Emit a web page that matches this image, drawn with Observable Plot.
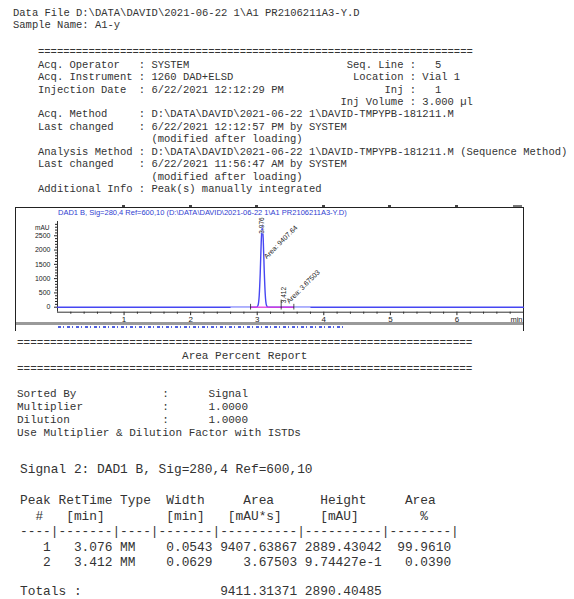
<!DOCTYPE html>
<html><head><meta charset="utf-8">
<script src="https://cdn.jsdelivr.net/npm/d3@7"></script>
<script src="https://cdn.jsdelivr.net/npm/@observablehq/plot@0.6"></script>
<style>
html,body{margin:0;padding:0;background:#fff;width:574px;height:599px;overflow:hidden;position:relative}
.mono{position:absolute;margin:0;font-family:"Liberation Mono","Courier New",monospace;color:#333;white-space:pre}
.sans{font-family:"Liberation Sans",Arial,sans-serif}
</style></head><body>
<pre class="mono" id="topBlock" style="left:13px;top:7px;font-size:10.5px;line-height:12px"></pre>
<pre class="mono" id="headerBlock" style="left:38px;top:46.3px;font-size:10.5px;line-height:12.44px"></pre>
<div id="prevFrag" style="position:absolute;left:0;top:204px;width:574px;height:3px"></div>
<div id="chartBox" style="position:absolute;left:15px;top:207px;width:507px;height:123px;border-left:1px solid #222;border-right:1px solid #222;border-top:1px solid #222">
  <div id="chartTitle" class="sans" style="position:absolute;left:42px;top:0.7px;font-size:7.5px;line-height:8px;color:#3040d0;white-space:nowrap"></div>
  <div id="plotHost" style="position:absolute;left:0;top:0"></div>
  <div style="position:absolute;left:0;top:114px;width:507px;height:2.5px;background:#9a9a9a"></div>
  <div style="position:absolute;left:42px;top:117.5px;width:288px;height:2px;background:repeating-linear-gradient(90deg,#5060e0 0 3px,transparent 3px 5px,#5060e0 5px 6px,transparent 6px 9px)"></div>
</div>
<pre class="mono" id="reportBlock" style="left:17px;top:337.1px;font-size:11px;line-height:12.8px"></pre>
<div id="tableBlock" style="position:absolute;left:20px;top:461.5px;width:540px;height:137px"></div>
<script>
// ---------- report text ----------
const dataFile = "D:\\DATA\\DAVID\\2021-06-22 1\\A1 PR2106211A3-Y.D";
const sampleName = "A1-y";
const methodPath = "D:\\DATA\\DAVID\\2021-06-22 1\\DAVID-TMPYPB-181211.M";
const signalName = "DAD1 B, Sig=280,4 Ref=600,10";

// ---------- chart data ----------
const traceTime   = [0, 2.6, 2.9, 2.96, 2.99, 3.01, 3.03, 3.045, 3.06, 3.076, 3.09, 3.105, 3.12, 3.14, 3.16, 3.19, 3.3, 3.38, 3.412, 3.44, 3.6, 7];
const traceSignal = [0, 0,   0,   0,    3,    50,   400,  1170,  2270, 2889,  2400, 1310,  470,  60,   4,    0,    0,   0.3,  1,     0.3,  0,   0];

const peakNo     = [1, 2];
const peakRT     = [3.076, 3.412];
const peakType   = ["MM", "MM"];
const peakWidth  = ["0.0543", "0.0629"];
const peakArea   = [9407.63867, 3.67503];
const peakAreaTxt   = ["9407.63867", "3.67503"];
const peakHeight    = [2889.43042, 0.974427];
const peakHeightTxt = ["2889.43042", "9.74427e-1"];
const peakPct    = ["99.9610", "0.0390"];
const totalArea  = "9411.31371";
const totalHeight = "2890.40485";

const baseStart = [2.90, 3.36];
const baseEnd   = [3.36, 3.55];
const baseLevel = [0, 0];
const lightStart = [2.60, 3.55];
const lightEnd   = [2.90, 3.80];
const markerTime = [2.90, 3.36, 3.55];
const markerLow  = [-100, -100, -100];
const markerHigh = [100, 250, 100];

const xTicks = [1, 2, 3, 4, 5, 6];
const xMinorTicks = [0.2,0.4,0.6,0.8,1.2,1.4,1.6,1.8,2.2,2.4,2.6,2.8,3.2,3.4,3.6,3.8,4.2,4.4,4.6,4.8,5.2,5.4,5.6,5.8,6.2,6.4,6.6,6.8];
const yTicks = [0, 500, 1000, 1500, 2000, 2500];
const yMinorTicks = [100,200,300,400,600,700,800,900,1100,1200,1300,1400,1600,1700,1800,1900,2100,2200,2300,2400,2600,2700,2800,2900];

// ---------- text blocks ----------
const pad = (s, n) => s.padEnd(n);
document.getElementById("topBlock").textContent = [
  "Data File " + dataFile,
  "Sample Name: " + sampleName
].join("\n");

document.getElementById("headerBlock").textContent = [
  "=".repeat(69),
  pad("Acq. Operator   : SYSTEM", 49) + "Seq. Line :   5",
  pad("Acq. Instrument : 1260 DAD+ELSD", 50) + "Location : Vial 1",
  pad("Injection Date  : 6/22/2021 12:12:29 PM", 55) + "Inj :   1",
  " ".repeat(48) + "Inj Volume : 3.000 µl",
  "Acq. Method     : " + methodPath,
  "Last changed    : 6/22/2021 12:12:57 PM by SYSTEM",
  "                  (modified after loading)",
  "Analysis Method : " + methodPath + " (Sequence Method)",
  "Last changed    : 6/22/2021 11:56:47 AM by SYSTEM",
  "                  (modified after loading)",
  "Additional Info : Peak(s) manually integrated"
].join("\n");

document.getElementById("reportBlock").textContent = [
  "=".repeat(69),
  " ".repeat(25) + "Area Percent Report",
  "=".repeat(69),
  "",
  "Sorted By             :      Signal",
  "Multiplier            :      1.0000",
  "Dilution              :      1.0000",
  "Use Multiplier & Dilution Factor with ISTDs"
].join("\n");

const rows = peakNo.map((n, i) =>
  String(n).padStart(4) + peakRT[i].toFixed(3).padStart(8) + " " + peakType[i].padEnd(4) + " " +
  peakWidth[i].padStart(7) + " " + peakAreaTxt[i].padStart(10) + " " + peakHeightTxt[i].padStart(10) + " " + peakPct[i].padStart(8));
const tableLines = [
  "Signal 2: " + signalName,
  "",
  "Peak RetTime Type  Width     Area      Height     Area",
  "  #   [min]        [min]   [mAU*s]     [mAU]        %",
  "----|-------|----|-------|----------|----------|--------|",
  ...rows,
  "",
  "Totals :" + " ".repeat(18) + totalArea + " " + totalHeight
];
const tableHost = document.getElementById("tableBlock");
tableLines.forEach((line, i) => {
  if (!line) return;
  const d = document.createElement("div");
  d.className = "mono";
  const shift = i === tableLines.length - 1 ? -3 : 0;
  d.style.cssText = `left:0;top:${(i * 15.6 + 3.3 + shift).toFixed(1)}px;font-size:12.83px;line-height:9px;height:9px`;
  d.textContent = line;
  tableHost.appendChild(d);
});

document.getElementById("chartTitle").textContent = signalName + " (" + dataFile + ")";

// remnants of the previous chart's axis labels above the frame (tiny marks)
const xPage = d3.scaleLinear([0, 7], [57, 523]);
const prevFrag = document.getElementById("prevFrag");
xTicks.forEach(t => {
  const m = document.createElement("div");
  m.style.cssText = `position:absolute;left:${xPage(t) - 1.5}px;top:0.5px;width:3px;height:2px;background:#444`;
  prevFrag.appendChild(m);
});
{
  const m = document.createElement("div");
  m.style.cssText = `position:absolute;left:${xPage(6.85)}px;top:1px;width:9px;height:1.5px;background:#777`;
  prevFrag.appendChild(m);
}

// ---------- chart ----------
const trace = traceTime.map((t, i) => ({t, v: traceSignal[i]}));
const peaks = peakRT.map((rt, i) => ({rt, height: peakHeight[i], area: peakArea[i]}));
const baselines = baseStart.map((s, i) => ({x1: s, x2: baseEnd[i], y: baseLevel[i]}));
const lights = lightStart.map((s, i) => ({x1: s, x2: lightEnd[i], y: 0}));
const markers = markerTime.map((t, i) => ({t, lo: markerLow[i], hi: markerHigh[i]}));
const fmtArea = d3.format(".6");

const chart = Plot.plot({
  width: 507, height: 115,
  marginLeft: 41, marginRight: 0, marginTop: 13, marginBottom: 11.3,
  x: {domain: [0, 7]},
  y: {domain: [-175, 3000]},
  style: {fontFamily: "'Liberation Sans', Arial, sans-serif", background: "transparent", color: "#222", overflow: "visible"},
  marks: [
    Plot.axisY({ticks: yMinorTicks, tickSize: 2, tickFormat: () => "", label: null}),
    Plot.axisY({ticks: yTicks, tickSize: 3, tickPadding: 4, fontSize: 7, label: null, tickFormat: d3.format("d")}),
    Plot.axisX({ticks: xMinorTicks, tickSize: 2, tickFormat: () => "", label: null}),
    Plot.axisX({ticks: xTicks, tickSize: 3.5, tickPadding: 1, fontSize: 8, label: null, tickFormat: d3.format("d")}),
    Plot.ruleX([0], {stroke: "#333"}),
    Plot.ruleY([-175], {stroke: "#333"}),
    Plot.text(["mAU"], {text: d => d, frameAnchor: "top-left", dx: -8, dy: 3.5, textAnchor: "end", fontSize: 6.5}),
    Plot.text(["min"], {text: d => d, frameAnchor: "bottom-right", dx: -1, dy: 4, textAnchor: "end", lineAnchor: "top", fontSize: 7.5}),
    Plot.line(trace, {x: "t", y: "v", stroke: "#4646f2", strokeWidth: 1.4, curve: "monotone-x"}),
    Plot.link(lights, {x1: "x1", x2: "x2", y1: "y", y2: "y", stroke: "#b4b8ff", strokeWidth: 1.6}),
    Plot.link(baselines, {x1: "x1", x2: "x2", y1: "y", y2: "y", stroke: "#e03ce0", strokeWidth: 1.3}),
    Plot.ruleX(markers, {x: "t", y1: "lo", y2: "hi", stroke: "#222", strokeWidth: 0.8}),
    Plot.text(peaks.slice(0, 1), {x: "rt", y: "height", text: d => d.rt.toFixed(3), rotate: -90, textAnchor: "start", dy: 9, fontSize: 6.5, fill: "#222", stroke: "white", strokeWidth: 0.6, paintOrder: "stroke"}),
    Plot.text(peaks.slice(1, 2), {x: "rt", y: "height", text: d => d.rt.toFixed(3), rotate: -90, textAnchor: "start", dx: -1, dy: -4, fontSize: 6.5, fill: "#222"}),
    Plot.text(peaks.slice(0, 1), {x: "rt", y: "height", text: d => "Area: " + fmtArea(d.area), rotate: -45, textAnchor: "start", dx: 3, dy: 33, fontSize: 7, fill: "#222"}),
    Plot.text(peaks.slice(1, 2), {x: "rt", y: "height", text: d => "Area: " + fmtArea(d.area), rotate: -45, textAnchor: "start", dx: 3, dy: -5, fontSize: 7, fill: "#222"})
  ]
});
document.getElementById("plotHost").appendChild(chart);
</script>
</body></html>
